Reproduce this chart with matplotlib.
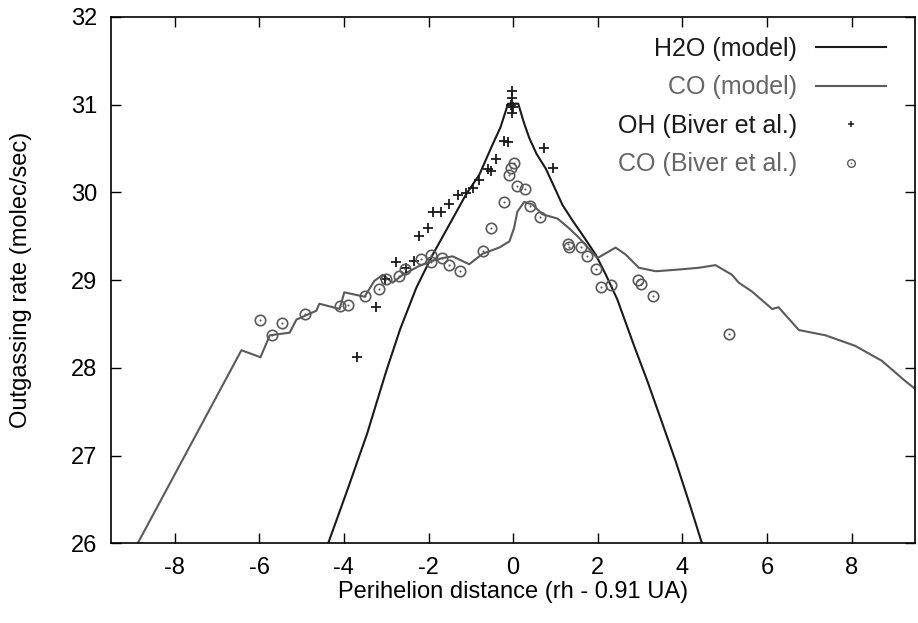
import matplotlib
matplotlib.use("Agg")
import matplotlib.pyplot as plt
from matplotlib.legend_handler import HandlerTuple

plt.rcParams['font.family'] = ['Liberation Sans', 'DejaVu Sans']
plt.rcParams['axes.unicode_minus'] = False

# H2O model curve (x, log rate)
h2o_x = [-4.45, -4.37, -3.9, -3.45, -3.0, -2.67, -2.29, -1.90, -1.59, -1.12, -0.80, -0.50,
         -0.30, -0.12, 0.12, 0.25, 0.38, 0.55, 0.77, 1.01, 1.16, 1.40, 1.63, 1.95, 2.19,
         2.46, 2.58, 2.85, 3.17, 3.50, 3.85, 4.20, 4.46, 4.55]
h2o_y = [25.9, 26.0, 26.63, 27.25, 27.96, 28.44, 28.91, 29.29, 29.56, 29.97, 30.20, 30.53,
         30.74, 31.01, 31.01, 30.80, 30.62, 30.44, 30.27, 30.02, 29.86, 29.68, 29.52, 29.29, 29.06,
         28.78, 28.62, 28.26, 27.85, 27.40, 26.92, 26.40, 26.0, 25.87]

# CO model curve
co_x = [-8.95, -8.87, -6.42, -5.97, -5.75, -5.28, -5.12, -4.93, -4.65, -4.58, -4.10, -3.99,
        -3.51, -3.28, -3.08, -2.85, -2.61, -2.22, -1.90, -1.67, -1.43, -1.04, -0.72, -0.33,
        -0.09, 0.02, 0.10, 0.26, 0.46, 0.69, 1.05, 1.32, 1.56, 1.99, 2.42, 2.66, 2.97, 3.37,
        3.92, 4.39, 4.78, 5.17, 5.33, 5.64, 6.12, 6.27, 6.75, 7.38, 8.08, 8.71, 9.26, 9.55]
co_y = [25.9, 26.0, 28.20, 28.12, 28.37, 28.40, 28.55, 28.59, 28.65, 28.73, 28.67, 28.86,
        28.81, 28.99, 29.06, 28.97, 29.06, 29.16, 29.22, 29.25, 29.27, 29.18, 29.30, 29.37,
        29.44, 29.59, 29.78, 29.89, 29.86, 29.75, 29.70, 29.59, 29.48, 29.25, 29.37, 29.29, 29.14, 29.10,
        29.12, 29.14, 29.17, 29.06, 28.97, 28.87, 28.67, 28.69, 28.43, 28.37, 28.25, 28.08, 27.85, 27.74]

# OH measurements (Biver et al.)
oh_x = [-3.69, -3.25, -3.02, -2.77, -2.53, -2.35, -2.22, -2.02, -1.90, -1.71, -1.51, -1.31,
        -1.11, -0.94, -0.80, -0.60, -0.53, -0.41, -0.21, -0.12, -0.02, -0.02, -0.05, 0.0,
        -0.03, 0.73, 0.93]
oh_y = [28.12, 28.69, 29.01, 29.20, 29.14, 29.22, 29.50, 29.59, 29.78, 29.78, 29.87, 29.97,
        29.99, 30.05, 30.14, 30.26, 30.24, 30.38, 30.58, 30.57, 31.15, 31.08, 31.0, 30.97,
        30.90, 30.50, 30.28]

# CO measurements (Biver et al.)
cob_x = [-5.99, -5.69, -5.46, -4.91, -4.09, -3.90, -3.50, -3.16, -3.00, -2.70, -2.55, -2.17,
         -1.93, -1.94, -1.68, -1.51, -1.26, -0.71, -0.53, -0.22, -0.09, -0.05, 0.02, 0.09,
         0.28, 0.39, 0.63, 1.29, 1.32, 1.61, 1.74, 1.96, 2.08, 2.30, 2.94, 3.01, 3.30, 5.09]
cob_y = [28.55, 28.37, 28.51, 28.61, 28.70, 28.72, 28.82, 28.90, 29.01, 29.05, 29.13, 29.24,
         29.29, 29.20, 29.25, 29.17, 29.10, 29.33, 29.59, 29.89, 30.20, 30.28, 30.33, 30.07,
         30.04, 29.84, 29.72, 29.41, 29.38, 29.38, 29.27, 29.13, 28.92, 28.94, 29.00, 28.96, 28.82, 28.38]

black = '#1a1a1a'
gray = '#5a5a5a'

fig = plt.figure(figsize=(9.18, 6.23), dpi=100)
ax = fig.add_axes([0.121, 0.128, 0.876, 0.845])

l1, = ax.plot(h2o_x, h2o_y, color=black, lw=1.5)
l2, = ax.plot(co_x, co_y, color=gray, lw=1.5)
p1, = ax.plot(oh_x, oh_y, ls='none', marker='+', ms=7, mew=1.3, color=black)
c1, = ax.plot(cob_x, cob_y, ls='none', marker='o', ms=7.5, mew=1.2,
              mfc='none', mec=gray)
d1, = ax.plot(cob_x, cob_y, ls='none', marker='o', ms=1.5, mew=0, color=gray)

ax.set_xlim(-9.5, 9.5)
ax.set_ylim(26, 32)
ax.set_xticks(range(-8, 9, 2))
ax.set_yticks(range(26, 33))
ax.tick_params(direction='in', length=7, width=1, top=True, right=True,
               labelsize=17, pad=10)
for s in ax.spines.values():
    s.set_linewidth(1.2)

ax.set_xlabel('Perihelion distance (rh - 0.91 UA)', fontsize=17, labelpad=1)
ax.set_ylabel('Outgassing rate (molec/sec)', fontsize=17, labelpad=28)

# legend handles: smaller markers like the reference key
hp, = ax.plot([], [], ls='none', marker='+', ms=5, mew=1.1, color=black)
hc, = ax.plot([], [], ls='none', marker='o', ms=5.5, mew=1.0, mfc='none', mec=gray)
hd, = ax.plot([], [], ls='none', marker='o', ms=1.2, mew=0, color=gray)

leg = ax.legend([l1, l2, hp, (hc, hd)],
                ['H2O (model)', 'CO (model)', 'OH (Biver et al.)', 'CO (Biver et al.)'],
                handler_map={tuple: HandlerTuple(ndivide=1, pad=0)},
                loc='upper right', bbox_to_anchor=(0.988, 1.0),
                frameon=False, markerfirst=False,
                fontsize=18, handlelength=2.8, handletextpad=0.75,
                labelspacing=0.58, borderaxespad=0.4,
                labelcolor=[black, '#666666', black, '#666666'])

fig.savefig('out.png', dpi=100)
